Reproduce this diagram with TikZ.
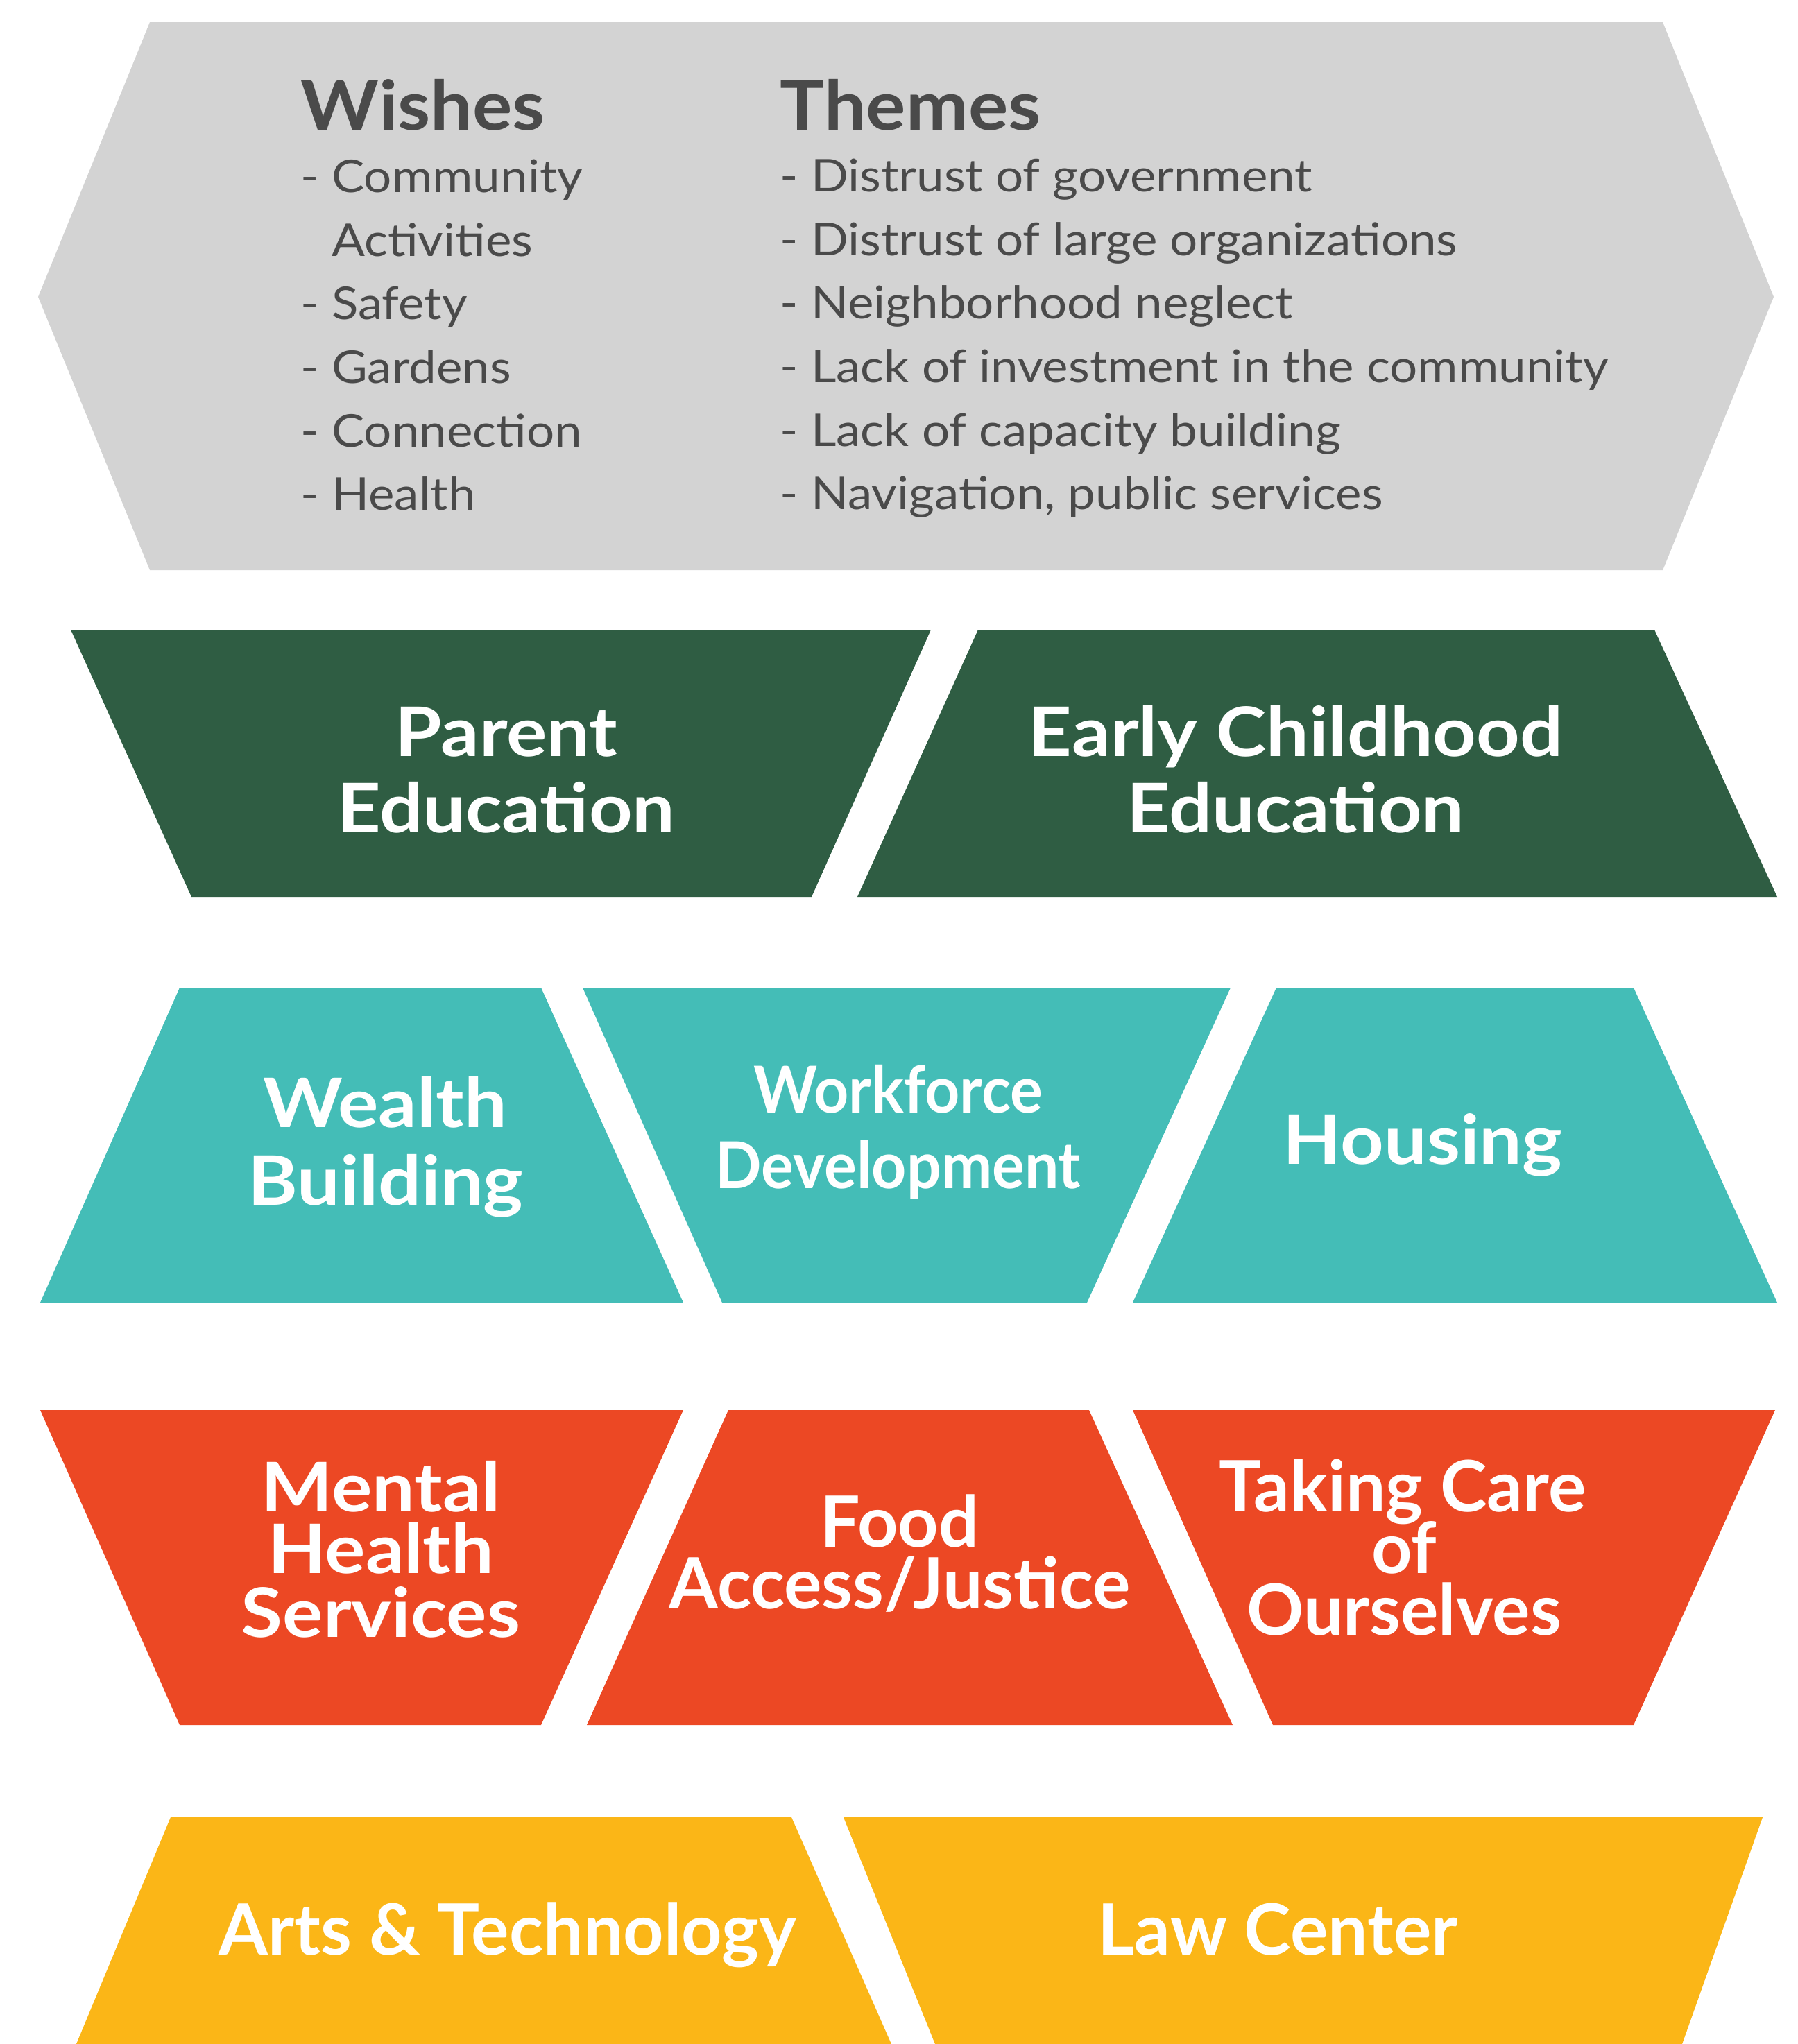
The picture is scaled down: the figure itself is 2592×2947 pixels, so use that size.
\documentclass[tikz,border=0pt]{standalone}
\usepackage{fontspec}
\setmainfont{Lato}
\newfontfamily\listfont{Lato}[FakeStretch=1.09]
\newfontfamily\widefont{Lato}[FakeStretch=1.11]
\newfontfamily\condfont{Lato}[FakeStretch=0.94]
\usepackage{xcolor}
\usepackage{tikz}

\definecolor{hexgray}{HTML}{D3D3D3}
\definecolor{txtgray}{HTML}{4A4A4A}
\definecolor{pinegreen}{HTML}{2F5D43}
\definecolor{tealfill}{HTML}{44BDB7}
\definecolor{redfill}{HTML}{EC4824}
\definecolor{yellowfill}{HTML}{FBB617}

\tikzset{
  item/.style={anchor=base west, inner sep=0, text=txtgray, font=\listfont\fontsize{18.5}{22}\selectfont},
  head/.style={anchor=base west, inner sep=0, text=txtgray, font=\listfont\bfseries\fontsize{28}{32}\selectfont},
  lbl/.style={anchor=base, inner sep=0, text=white, font=\widefont\bfseries\fontsize{28}{32}\selectfont},
  tlbl/.style={anchor=base, inner sep=0, text=white, font=\bfseries\fontsize{29}{32}\selectfont},
  clbl/.style={anchor=base, inner sep=0, text=white, font=\condfont\bfseries\fontsize{26.5}{30}\selectfont}
}

\begin{document}
\begin{tikzpicture}[x=0.01cm, y=-0.01cm]
\useasboundingbox (0,0) rectangle (2592,2947);

\fill[hexgray] (216,32)--(2397,32)--(2557,428)--(2397,822)--(216,822)--(55,428)--cycle;

\fill[pinegreen] (102,908)--(1342,908)--(1170,1293)--(276,1293)--cycle;
\fill[pinegreen] (1410,908)--(2385,908)--(2562,1293)--(1236,1293)--cycle;

\fill[tealfill] (259,1424)--(780,1424)--(985,1878)--(58,1878)--cycle;
\fill[tealfill] (840,1424)--(1774,1424)--(1567,1878)--(1041,1878)--cycle;
\fill[tealfill] (1840,1424)--(2355,1424)--(2562,1878)--(1633,1878)--cycle;

\fill[redfill] (58,2033)--(985,2033)--(780,2487)--(259,2487)--cycle;
\fill[redfill] (1050,2033)--(1570,2033)--(1777,2487)--(846,2487)--cycle;
\fill[redfill] (1633,2033)--(2559,2033)--(2355,2487)--(1835,2487)--cycle;

\fill[yellowfill] (246,2620)--(1141,2620)--(1285,2947)--(110,2947)--cycle;
\fill[yellowfill] (1216,2620)--(2541,2620)--(2425,2947)--(1348,2947)--cycle;

\node[head] (wishes) at (433,187) {Wishes};
\node[head] (themes) at (1124,187) {Themes};

\foreach \t [count=\i] in {- Community, \phantom{- }Activities, - Safety, - Gardens, - Connection, - Health}{
	\node[item] (wish\i) at (433, 186+91.6*\i) {\t};
}
\foreach \t [count=\i] in {Distrust of government, Distrust of large organizations, Neighborhood neglect, Lack of investment in the community, Lack of capacity building, {Navigation, public services}}{
	\node[item] (theme\i) at (1124, 185+91.6*\i) {- \t};
}

\node[lbl] (parent1) at (730,1090) {Parent};
\node[lbl] (parent2) at (730,1200) {Education};
\node[lbl] (early1) at (1868,1090) {Early Childhood};
\node[lbl] (early2) at (1868,1200) {Education};

\node[lbl] (wealth1) at (555,1625) {Wealth};
\node[lbl] (wealth2) at (556,1737) {Building};
\node[clbl] (work1) at (1295,1604) {Workforce};
\node[clbl] (work2) at (1295,1713) {Development};
\node[lbl] (housing) at (2051,1678) {Housing};

\node[lbl] (mental1) at (549,2179) {Mental};
\node[lbl] (mental2) at (549,2268) {Health};
\node[lbl] (mental3) at (549,2360) {Services};
\node[tlbl] (food1) at (1297,2230) {Food};
\node[tlbl] (food2) at (1297,2319) {Access/Justice};
\node[tlbl] (care1) at (2022,2179) {Taking Care};
\node[tlbl] (care2) at (2024,2268) {of};
\node[tlbl] (care3) at (2024,2357) {Ourselves};

\node[tlbl] (arts) at (732,2818) {Arts \& Technology};
\node[tlbl] (law) at (1842,2818) {Law Center};

\end{tikzpicture}
\end{document}
